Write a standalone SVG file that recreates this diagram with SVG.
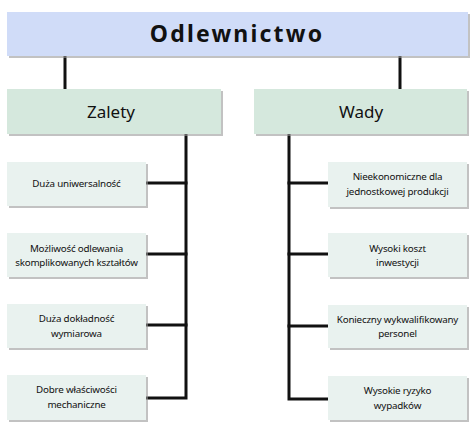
<svg xmlns="http://www.w3.org/2000/svg" width="474" height="433" viewBox="0 0 474 433">
<defs>
<style>
.title{fill:#d0dcf8;}
.cat{fill:#d5e8dd;}
.item{fill:#e9f2ef;}
.sh{fill:#9a9a9a;opacity:0.6;}
.ln{stroke:#111;stroke-width:3;fill:none;stroke-linecap:square;}
text{font-family:"Noto Sans","Open Sans",sans-serif;fill:#111;text-anchor:middle;}
.t1{font-size:23px;font-weight:bold;letter-spacing:2.2px;}
.t2{font-size:17px;}
.t3{font-size:9.8px;letter-spacing:-0.2px;}
</style>
</defs>
<rect width="474" height="433" fill="#fff"/>
<g id="connectors">
<line class="ln" x1="65" y1="56" x2="65" y2="89"/>
<line class="ln" x1="400" y1="56" x2="400" y2="89"/>
<polyline class="ln" points="186,134 186,398 146,398"/>
<line class="ln" x1="146" y1="183" x2="186" y2="183"/>
<line class="ln" x1="146" y1="254" x2="186" y2="254"/>
<line class="ln" x1="146" y1="325" x2="186" y2="325"/>
<polyline class="ln" points="289,134 289,399 328,399"/>
<line class="ln" x1="289" y1="183" x2="328" y2="183"/>
<line class="ln" x1="289" y1="254" x2="328" y2="254"/>
<line class="ln" x1="289" y1="326" x2="328" y2="326"/>
</g>
<g id="n-root">
<rect class="sh" x="9" y="14" width="461" height="44"/>
<rect class="title" x="7" y="12" width="461" height="44"/>
<text class="t1" x="237" y="42">Odlewnictwo</text>
</g>
<g id="n-zalety">
<rect class="sh" x="9" y="91" width="214" height="45"/>
<rect class="cat" x="7" y="89" width="214" height="45"/>
<text class="t2" x="111" y="118">Zalety</text>
</g>
<g id="n-wady">
<rect class="sh" x="256" y="91" width="213" height="45"/>
<rect class="cat" x="254" y="89" width="213" height="45"/>
<text class="t2" x="361" y="118">Wady</text>
</g>
<g id="n-z1">
<rect class="sh" x="9" y="164" width="139" height="44"/>
<rect class="item" x="7" y="162" width="139" height="44"/>
<text class="t3" x="76.5" y="187">Duża uniwersalność</text>
</g>
<g id="n-z2">
<rect class="sh" x="9" y="235" width="139" height="44"/>
<rect class="item" x="7" y="233" width="139" height="44"/>
<text class="t3" x="76.5" y="251.5">Możliwość odlewania</text>
<text class="t3" x="76.5" y="266">skomplikowanych kształtów</text>
</g>
<g id="n-z3">
<rect class="sh" x="9" y="306" width="139" height="44"/>
<rect class="item" x="7" y="304" width="139" height="44"/>
<text class="t3" x="76.5" y="322">Duża dokładność</text>
<text class="t3" x="76.5" y="336.5">wymiarowa</text>
</g>
<g id="n-z4">
<rect class="sh" x="9" y="377" width="139" height="45"/>
<rect class="item" x="7" y="375" width="139" height="45"/>
<text class="t3" x="76.5" y="393">Dobre właściwości</text>
<text class="t3" x="76.5" y="408">mechaniczne</text>
</g>
<g id="n-w1">
<rect class="sh" x="330" y="164" width="139" height="45"/>
<rect class="item" x="328" y="162" width="139" height="45"/>
<text class="t3" x="397.5" y="180">Nieekonomiczne dla</text>
<text class="t3" x="397.5" y="194.5">jednostkowej produkcji</text>
</g>
<g id="n-w2">
<rect class="sh" x="330" y="235" width="139" height="44"/>
<rect class="item" x="328" y="233" width="139" height="44"/>
<text class="t3" x="397.5" y="251.5">Wysoki koszt</text>
<text class="t3" x="397.5" y="266">inwestycji</text>
</g>
<g id="n-w3">
<rect class="sh" x="330" y="307" width="139" height="43"/>
<rect class="item" x="328" y="305" width="139" height="43"/>
<text class="t3" x="397.5" y="322.5">Konieczny wykwalifikowany</text>
<text class="t3" x="397.5" y="337">personel</text>
</g>
<g id="n-w4">
<rect class="sh" x="330" y="378" width="139" height="44"/>
<rect class="item" x="328" y="376" width="139" height="44"/>
<text class="t3" x="397.5" y="394">Wysokie ryzyko</text>
<text class="t3" x="397.5" y="409">wypadków</text>
</g>
</svg>
